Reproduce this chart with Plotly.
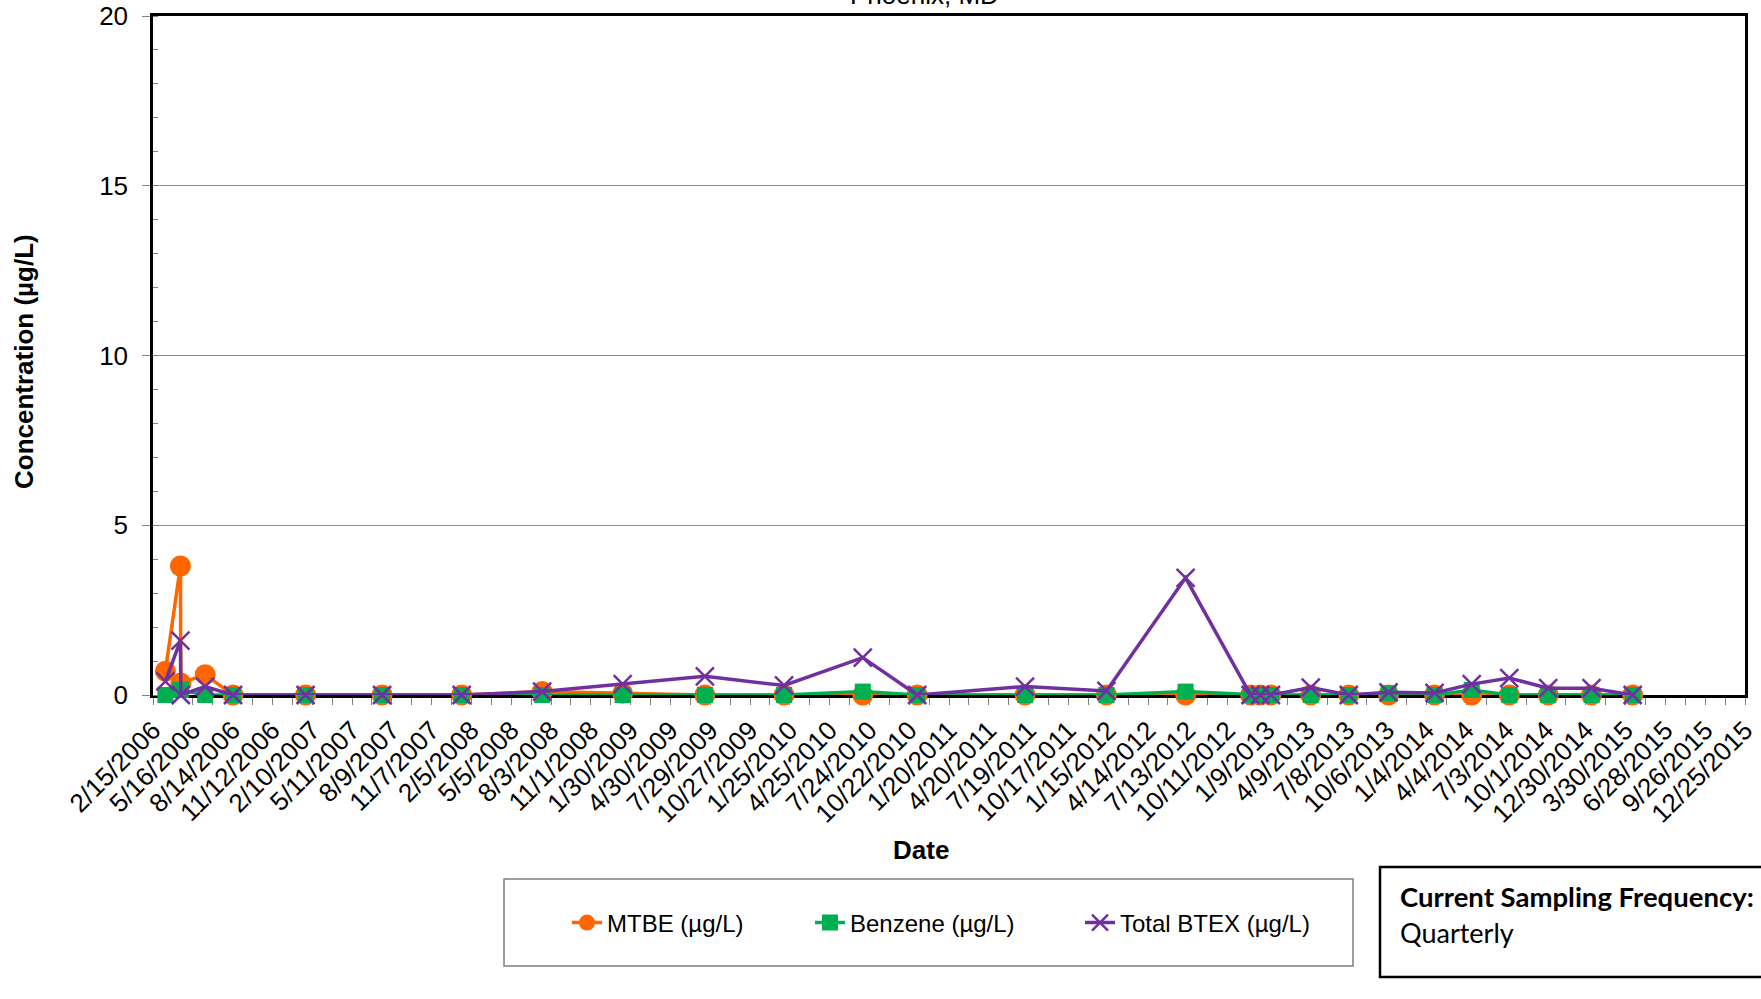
import plotly.graph_objects as go

# ---------------- data ----------------
sample_dates = ["2006-03-15", "2006-04-18", "2006-04-19", "2006-06-13", "2006-08-15",
                "2007-01-26", "2007-07-18", "2008-01-14", "2008-07-14", "2009-01-12",
                "2009-07-17", "2010-01-12", "2010-07-09", "2010-11-09", "2011-07-11",
                "2012-01-11", "2012-07-08", "2012-12-02", "2012-12-24", "2013-01-17",
                "2013-04-17", "2013-07-12", "2013-10-10", "2014-01-22", "2014-04-16",
                "2014-07-10", "2014-10-06", "2015-01-12", "2015-04-15"]
mtbe = [0.7, 3.8, 0.35, 0.6, 0, 0, 0, 0, 0.1, 0.05,
        0, 0, 0, 0, 0, 0, 0, 0, 0, 0,
        0, 0, 0, 0, 0, 0, 0, 0, 0]
benzene = [0, 0.15, 0.15, 0, 0, 0, 0, 0, 0, 0,
           0, 0, 0.1, 0, 0, 0, 0.1, 0, 0, 0,
           0, 0, 0.05, 0, 0.15, 0, 0, 0, 0]
total_btex = [0.4, 1.6, 0, 0.25, 0, 0, 0, 0, 0.1, 0.32,
              0.55, 0.28, 1.1, 0, 0.25, 0.12, 3.45, 0, 0, 0,
              0.22, 0, 0.08, 0.06, 0.32, 0.5, 0.2, 0.2, 0]

series_names = ["MTBE (µg/L)", "Benzene (µg/L)", "Total BTEX (µg/L)"]
x_range = ["2006-02-15", "2015-12-25"]
y_ticks = [0, 5, 10, 15, 20]
title_text = "Phoenix, MD"
x_title = "Date"
y_title = "Concentration (µg/L)"
freq_label = "Current Sampling Frequency:"
freq_value = "Quarterly"

# ---------------- styling ----------------
ORANGE = "#FF6600"
GREEN = "#00B050"
PURPLE = "#7030A0"
FONT = "Liberation Sans, Arial, sans-serif"
BOXFONT = "Lato, sans-serif"
DAY_MS = 86400000

W, H = 1761, 999
ML, MR, MT, MB = 153, 16, 16, 304
PW = W - ML - MR
PH = H - MT - MB


def px_x(p):
    """page x pixel -> paper x"""
    return (p - ML) / PW


def px_y(p):
    """page y pixel -> paper y"""
    return (H - MB - p) / PH


fig = go.Figure()

fig.add_trace(go.Scatter(
    x=sample_dates, y=mtbe, name=series_names[0], mode="lines+markers",
    line=dict(color=ORANGE, width=3.5),
    marker=dict(symbol="circle", size=21, color=ORANGE),
    cliponaxis=False, legend="legend"))
fig.add_trace(go.Scatter(
    x=sample_dates, y=benzene, name=series_names[1], mode="lines+markers",
    line=dict(color=GREEN, width=3.5),
    marker=dict(symbol="square", size=16, color=GREEN),
    cliponaxis=False, legend="legend2"))
fig.add_trace(go.Scatter(
    x=sample_dates, y=total_btex, name=series_names[2], mode="lines+markers",
    line=dict(color=PURPLE, width=3.5),
    marker=dict(symbol="x-thin", size=18, color=PURPLE,
                line=dict(color=PURPLE, width=2.5)),
    cliponaxis=False, legend="legend3"))

legend_common = dict(orientation="h", xanchor="left", yanchor="middle",
                     bgcolor="rgba(0,0,0,0)", borderwidth=0,
                     font=dict(family=FONT, size=24, color="black"))

fig.update_layout(
    width=W, height=H,
    margin=dict(l=ML, r=MR, t=MT, b=MB, autoexpand=False),
    paper_bgcolor="white", plot_bgcolor="white",
    font=dict(family=FONT, color="black"),
    showlegend=True,
    legend=dict(x=px_x(567), y=px_y(923), **legend_common),
    legend2=dict(x=px_x(810), y=px_y(923), **legend_common),
    legend3=dict(x=px_x(1080), y=px_y(923), **legend_common),
    xaxis=dict(
        type="date", range=x_range,
        tick0=x_range[0], dtick=90 * DAY_MS, tickformat="%-m/%-d/%Y",
        tickangle=-45, tickfont=dict(family=FONT, size=26, color="black"),
        ticks="outside", ticklen=7, tickcolor="#808080", tickwidth=1,
        minor=dict(tick0=x_range[0], dtick=45 * DAY_MS, ticks="outside",
                   ticklen=7, tickcolor="#808080", showgrid=False),
        showgrid=False, zeroline=False, automargin=False,
        ticklabeloverflow="allow",
        showline=True, linecolor="black", linewidth=2.5, mirror=True,
        layer="below traces",
    ),
    yaxis=dict(
        range=[0, 20], tickvals=y_ticks,
        tickfont=dict(family=FONT, size=26, color="black"),
        ticks="outside", ticklen=8, tickcolor="#808080", tickwidth=1,
        ticklabelstandoff=9, ticklabeloverflow="allow",
        minor=dict(dtick=1, ticks="inside", ticklen=5, tickcolor="#808080",
                   showgrid=False),
        showgrid=True, gridcolor="#8c8c8c", gridwidth=1,
        zeroline=False, automargin=False,
        showline=True, linecolor="black", linewidth=2.5, mirror=True,
        layer="below traces",
    ),
)

annotations = [
    dict(text=title_text, x=px_x(924), y=px_y(-5), xref="paper", yref="paper",
         xanchor="center", yanchor="middle", showarrow=False,
         font=dict(family=FONT, size=26, color="black")),
    dict(text="<b>%s</b>" % x_title, x=px_x(921), y=px_y(850), xref="paper", yref="paper",
         xanchor="center", yanchor="middle", showarrow=False,
         font=dict(family=FONT, size=26, color="black")),
    dict(text="<b>%s</b>" % y_title, x=px_x(24), y=px_y(362), xref="paper", yref="paper",
         xanchor="center", yanchor="middle", showarrow=False, textangle=-90,
         font=dict(family=FONT, size=26, color="black")),
    dict(text="<b>%s</b>" % freq_label, x=px_x(1398), y=px_y(896), xref="paper", yref="paper",
         xanchor="left", yanchor="middle", showarrow=False,
         font=dict(family=BOXFONT, size=27.5, color="black")),
    dict(text=freq_value, x=px_x(1398), y=px_y(932), xref="paper", yref="paper",
         xanchor="left", yanchor="middle", showarrow=False,
         font=dict(family=BOXFONT, size=27, color="black")),
]
fig.update_layout(annotations=annotations)

shapes = [
    # legend frame
    dict(type="rect", xref="paper", yref="paper",
         x0=px_x(504), x1=px_x(1353), y0=px_y(966), y1=px_y(879),
         line=dict(color="#7f7f7f", width=1.5), fillcolor="rgba(0,0,0,0)"),
    # sampling frequency frame
    dict(type="rect", xref="paper", yref="paper",
         x0=px_x(1380), x1=px_x(1775), y0=px_y(977), y1=px_y(867),
         line=dict(color="black", width=2.5), fillcolor="rgba(0,0,0,0)"),
]
fig.update_layout(shapes=shapes)

fig.write_html("out.html",
               config={"displayModeBar": False},
               post_script="document.body.style.margin='0';document.body.style.overflow='hidden';")
